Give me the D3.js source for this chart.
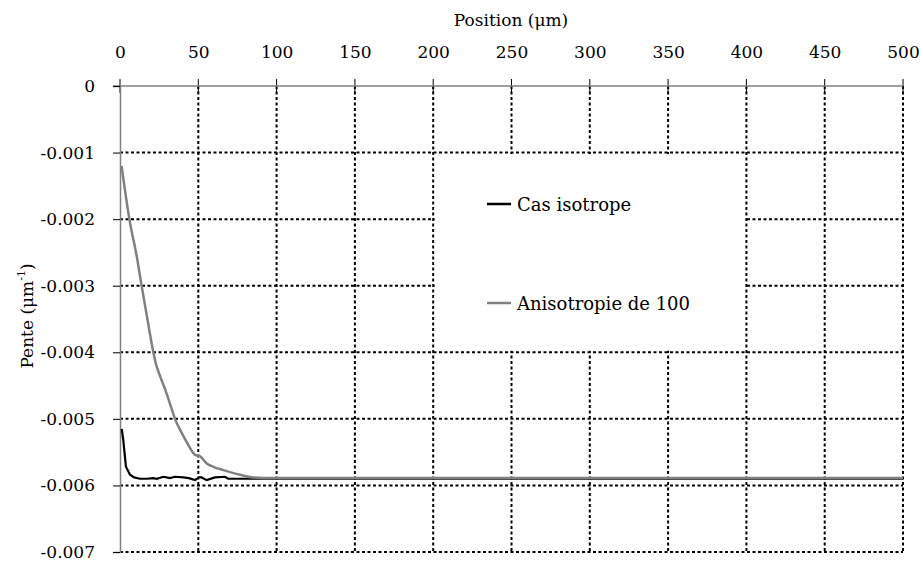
<!DOCTYPE html>
<html><head><meta charset="utf-8">
<script src="https://cdn.jsdelivr.net/npm/d3@7"></script>
<style>body{margin:0;background:#fff}svg text{font-family:"DejaVu Serif",serif;fill:#000}</style>
</head><body><svg id="c" width="923" height="563"></svg>
<script>
const xTicks = [0,50,100,150,200,250,300,350,400,450,500];
const yTicks = [0,-0.001,-0.002,-0.003,-0.004,-0.005,-0.006,-0.007];
const seriesNames = ["Cas isotrope","Anisotropie de 100"];
const isoX = [1.1,2.1,3.8,6.4,9,12.8,17,21.3,23.4,27.7,31.9,35.1,40.4,44,47.9,50.5,52.1,55.4,60.6,67,69.1,75,83,100,500];
const isoY = [-0.00515,-0.00532,-0.00572,-0.00584,-0.00588,-0.0059,-0.0059,-0.00589,-0.0059,-0.00587,-0.00589,-0.00587,-0.00588,-0.00589,-0.00592,-0.00588,-0.00588,-0.00592,-0.00588,-0.00587,-0.0059,-0.0059,-0.0059,-0.0059,-0.0059];
const aniX = [1,6,11,13.8,17.5,21.3,23,25,28.7,31.9,35.1,39.4,43.6,47.9,51,55.4,59.6,66,70.2,76.6,85,98,500];
const aniY = [-0.0012,-0.002,-0.0026,-0.003,-0.0035,-0.004,-0.00418,-0.00432,-0.00455,-0.00477,-0.005,-0.00521,-0.00539,-0.00554,-0.00556,-0.00567,-0.00572,-0.00577,-0.0058,-0.00584,-0.00588,-0.00589,-0.00589];

const svg = d3.select("#c");
const x = d3.scaleLinear().domain([0,500]).range([120,903]);
const y = d3.scaleLinear().domain([-0.007,0]).range([552,86]);

// grid
const g = svg.append("g");
g.selectAll("line.v").data(xTicks.slice(1)).join("line")
  .attr("x1",d=>x(d)).attr("x2",d=>x(d)).attr("y1",y(0)).attr("y2",y(-0.007))
  .attr("stroke","#000").attr("stroke-width",2).attr("stroke-dasharray","3,2.5");
g.selectAll("line.h").data(yTicks.slice(1)).join("line")
  .attr("x1",x(0)).attr("x2",x(500)).attr("y1",d=>y(d)).attr("y2",d=>y(d))
  .attr("stroke","#000").attr("stroke-width",2).attr("stroke-dasharray","3,2.5");

// legend background (covers interior grid)
svg.append("rect").attr("x",x(200)+1.5).attr("y",y(-0.001)+1.5)
  .attr("width",x(400)-x(200)-3).attr("height",y(-0.004)-y(-0.001)-3).attr("fill","#fff");

// axes
const xa = svg.append("g").attr("transform",`translate(0,${y(0)})`)
  .call(d3.axisTop(x).tickValues(xTicks).tickSize(0).tickPadding(28).tickFormat(d3.format("d")));
xa.attr("font-family",null).attr("font-size",null);
xa.select(".domain").remove();
xa.selectAll("text").style("font-size","17px");
svg.append("g").selectAll("line").data(xTicks).join("line")
  .attr("x1",d=>x(d)).attr("x2",d=>x(d)).attr("y1",y(0)-7).attr("y2",y(0)+7)
  .attr("stroke","#000").attr("stroke-width",1);
svg.append("line").attr("x1",113).attr("x2",x(500)).attr("y1",y(0)).attr("y2",y(0))
  .attr("stroke","#808080").attr("stroke-width",1.5);

const ya = svg.append("g").attr("transform",`translate(${x(0)},0)`)
  .call(d3.axisLeft(y).tickValues(yTicks).tickSize(7).tickPadding(18)
    .tickFormat(d=> d===0 ? "0" : d3.format(".3f")(d).replace("−","-")));
ya.attr("font-family",null).attr("font-size",null);
ya.select(".domain").attr("stroke","#808080").attr("stroke-width",1.5);
ya.selectAll(".tick line").attr("stroke","#000");
ya.selectAll("text").style("font-size","17px");

// lines
const line = d3.line().x(d=>x(d[0])).y(d=>y(d[1]));
const lineSmooth = d3.line().x(d=>x(d[0])).y(d=>y(d[1])).curve(d3.curveMonotoneX);
svg.append("path").datum(isoX.map((v,i)=>[v,isoY[i]])).attr("d",line)
  .attr("fill","none").attr("stroke","#000").attr("stroke-width",2.2);
svg.append("path").datum(aniX.map((v,i)=>[v,aniY[i]])).attr("d",lineSmooth)
  .attr("fill","none").attr("stroke","#808080").attr("stroke-width",2.5);

// titles
svg.append("text").attr("x",511).attr("y",26).attr("text-anchor","middle")
  .style("font-size","17px").text("Position (μm)");
const yl = svg.append("text").attr("transform","translate(33,316) rotate(-90)")
  .attr("text-anchor","middle").style("font-size","17px");
yl.append("tspan").text("Pente (μm");
yl.append("tspan").attr("dy",-8).style("font-size","11px").text("-1");
yl.append("tspan").attr("dy",8).text(")");

// legend
const leg = [{n:seriesNames[0],c:"#000",yy:204},{n:seriesNames[1],c:"#808080",yy:303}];
leg.forEach(l=>{
  svg.append("line").attr("x1",487).attr("x2",511).attr("y1",l.yy).attr("y2",l.yy)
    .attr("stroke",l.c).attr("stroke-width",2.5);
  svg.append("text").attr("x",517).attr("y",l.yy+7).style("font-size","18px").text(l.n);
});
</script></body></html>
